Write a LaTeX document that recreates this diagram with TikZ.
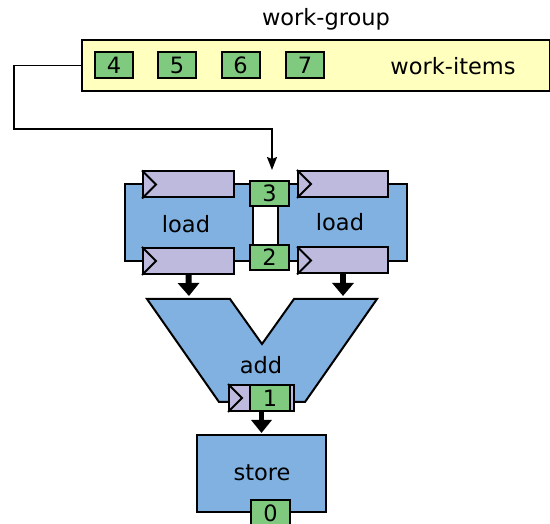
\documentclass[tikz,border=0pt]{standalone}
\usepackage{fontspec}
\setmainfont{DejaVu Sans}
\usetikzlibrary{arrows.meta}
\definecolor{cblue}{RGB}{128,177,224}
\definecolor{cgreen}{RGB}{128,202,128}
\definecolor{cyellow}{RGB}{255,255,190}
\definecolor{cpurple}{RGB}{190,186,222}
\tikzset{
  base/.style={draw=black, line width=2pt, inner sep=0pt},
  bluebox/.style={base, fill=cblue, minimum width=#1, minimum height=77pt},
  greenbox/.style={base, fill=cgreen, minimum width=39pt, minimum height=25pt},
  purplebar/.style={base, fill=cpurple, minimum width=#1, minimum height=26pt},
  lbl/.style={inner sep=0pt},
  chev/.style={draw=black, line width=2pt, line join=miter},
  fat/.style={line width=6pt, -{Triangle[width=21pt,length=13pt]}},
  thin/.style={line width=1.8pt, -{Stealth[width=10pt,length=13pt,inset=2pt]}}
}
\begin{document}
\begin{tikzpicture}[x=1pt,y=-1pt,font=\fontsize{22.5}{27}\selectfont]
\useasboundingbox (0,0) rectangle (550,524);
% work-group
\node[lbl] (title) at (326,19) {work-group};
\node[base, fill=cyellow, minimum width=468pt, minimum height=51pt, anchor=north west] (wg) at (81,39) {};
\node[greenbox, minimum width=38pt, minimum height=26pt] (w4) at (114,65) {4};
\node[greenbox, minimum width=38pt, minimum height=26pt] (w5) at (177,65) {5};
\node[greenbox, minimum width=38pt, minimum height=26pt] (w6) at (240.5,65) {6};
\node[greenbox, minimum width=38pt, minimum height=26pt] (w7) at (305,65) {7};
\node[lbl] (wi) at (453,66) {work-items};
% load boxes
\node[bluebox=128pt] (ld1) at (189,222.5) {};
\node[bluebox=129pt] (ld2) at (342.5,222.5) {};
\node[lbl] (t1) at (186,224) {load};
\node[lbl] (t2) at (340,222) {load};
\node[purplebar=91pt] (p1) at (188.5,184.5) {};
\node[purplebar=91pt] (p2) at (188.5,261) {};
\node[purplebar=90pt] (p3) at (343,184) {};
\node[purplebar=90pt] (p4) at (343,260.5) {};
\foreach \p in {p1,p2,p3,p4}
  \draw[chev] (\p.north west) -- ([xshift=14pt]\p.west) -- (\p.south west);
\node[greenbox] (g3) at (269.5,193.5) {3};
\node[greenbox] (g2) at (269.5,257.5) {2};
% connector
\coordinate (c1) at (14,129);
\draw[thin, shorten >=10pt] (wg.west) -| (c1) -| ([xshift=2.5pt]g3.north);
% add
\draw[base, fill=cblue, line join=miter] (147,299) -- (230,299) -- (262,344) -- (294,299) -- (377,299) -- (305,402) -- (219,402) -- cycle;
\coordinate (aL) at (189,299);
\coordinate (aR) at (343,299);
\node[lbl] (tadd) at (261,365) {add};
\node[purplebar=65pt] (p5) at (261.5,398) {};
\draw[chev] (p5.north west) -- ([xshift=14pt]p5.west) -- (p5.south west);
\node[greenbox, minimum width=40pt, minimum height=26pt] (g1) at (270,398) {1};
\draw[fat, shorten >=3pt] (p2.south) -- (aL);
\draw[fat, shorten >=3pt] (p4.south) -- (aR);
% store
\node[bluebox=129pt] (st) at (261.5,473.5) {};
\node[lbl] (tst) at (262,473) {store};
\node[greenbox, minimum width=39pt, minimum height=26pt] (g0) at (270.5,513) {0};
\draw[fat, line width=5.5pt, -{Triangle[width=20pt,length=13pt]}, shorten >=1pt] (p5.south -| st.north) -- (st.north);
\end{tikzpicture}
\end{document}
